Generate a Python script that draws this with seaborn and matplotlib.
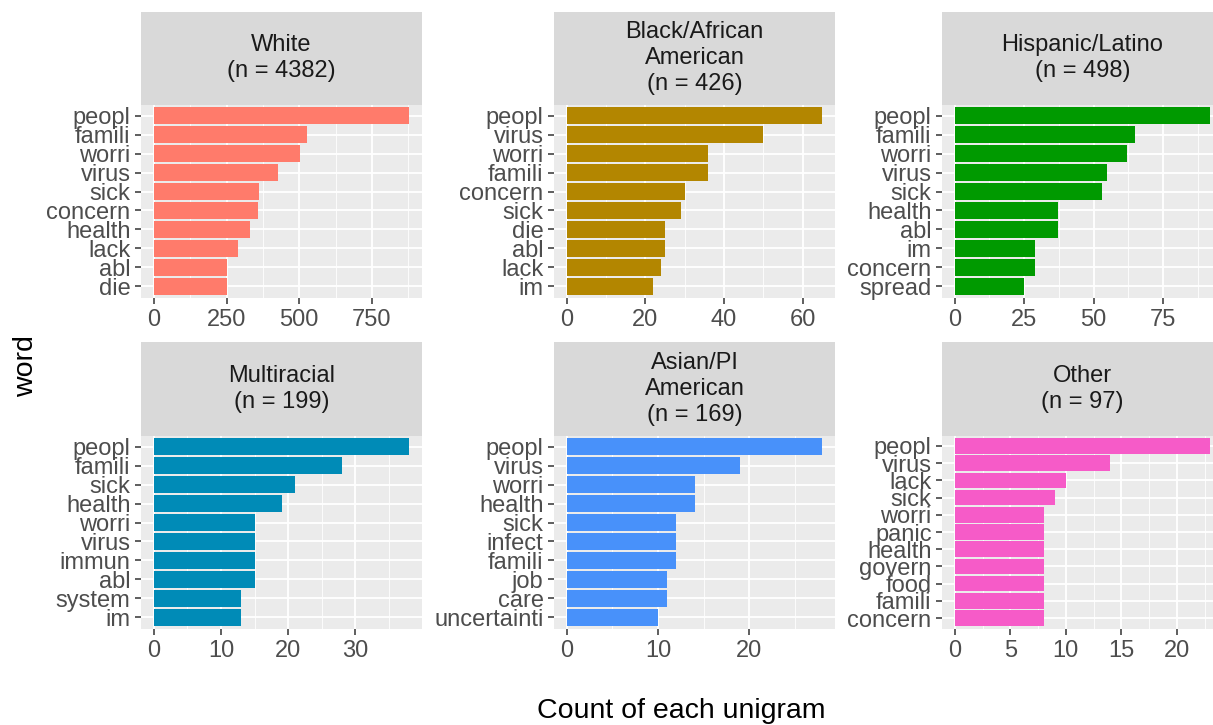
"""Top unigrams per race/ethnicity group, faceted horizontal bar chart."""

import matplotlib
matplotlib.use("Agg")
import matplotlib.pyplot as plt
from matplotlib.ticker import AutoMinorLocator, FixedLocator
import pandas as pd
import seaborn as sns

# --- data -------------------------------------------------------------------
groups = ["White\n(n = 4382)", "Black/African\nAmerican\n(n = 426)",
          "Hispanic/Latino\n(n = 498)", "Multiracial\n(n = 199)",
          "Asian/PI\nAmerican\n(n = 169)", "Other\n(n = 97)"]

white_words = ["peopl", "famili", "worri", "virus", "sick", "concern",
               "health", "lack", "abl", "die"]
white_counts = [878, 528, 501, 428, 361, 357, 331, 289, 252, 250]

black_words = ["peopl", "virus", "worri", "famili", "concern", "sick",
               "die", "abl", "lack", "im"]
black_counts = [65, 50, 36, 36, 30, 29, 25, 25, 24, 22]

hispanic_words = ["peopl", "famili", "worri", "virus", "sick", "health",
                  "abl", "im", "concern", "spread"]
hispanic_counts = [92, 65, 62, 55, 53, 37, 37, 29, 29, 25]

multi_words = ["peopl", "famili", "sick", "health", "worri", "virus",
               "immun", "abl", "system", "im"]
multi_counts = [38, 28, 21, 19, 15, 15, 15, 15, 13, 13]

asian_words = ["peopl", "virus", "worri", "health", "sick", "infect",
               "famili", "job", "care", "uncertainti"]
asian_counts = [28, 19, 14, 14, 12, 12, 12, 11, 11, 10]

other_words = ["peopl", "virus", "lack", "sick", "worri", "panic", "health",
               "govern", "food", "famili", "concern"]
other_counts = [23, 14, 10, 9, 8, 8, 8, 8, 8, 8, 8]

x_ticks = [[0, 250, 500, 750], [0, 20, 40, 60], [0, 25, 50, 75],
           [0, 10, 20, 30], [0, 10, 20], [0, 5, 10, 15, 20]]

colors = ["#FF7B6B", "#B38600", "#009A00", "#008BB7", "#4891FA", "#F65BC8"]

words_all = [white_words, black_words, hispanic_words,
             multi_words, asian_words, other_words]
counts_all = [white_counts, black_counts, hispanic_counts,
              multi_counts, asian_counts, other_counts]

df = pd.concat([pd.DataFrame({"group": g, "word": w, "count": c})
                for g, w, c in zip(groups, words_all, counts_all)],
               ignore_index=True)

# --- style ------------------------------------------------------------------
sns.set_theme(style="darkgrid", rc={
    "axes.facecolor": "#EBEBEB",
    "grid.color": "white",
    "xtick.color": "#333333",
    "ytick.color": "#333333",
    "xtick.labelcolor": "#4D4D4D",
    "ytick.labelcolor": "#4D4D4D",
    "xtick.bottom": True,
    "ytick.left": True,
    "xtick.major.size": 4,
    "ytick.major.size": 4,
    "xtick.major.width": 1.1,
    "ytick.major.width": 1.1,
    "xtick.major.pad": 4.5,
    "ytick.major.pad": 3.5,
})
plt.rcParams["font.family"] = ["Liberation Sans", "DejaVu Sans"]

W, H = 1213, 725
fig = plt.figure(figsize=(W / 100, H / 100), dpi=100)


def rect(left, top, width, height):
    return [left / W, (H - top - height) / H, width / W, height / H]


col_left = [141, 554, 942]
panel_w = 281
strip_top = [11.5, 342.5]
strip_h = 93
panel_h = 193

for i, grp in enumerate(groups):
    r, c = divmod(i, 3)
    left = col_left[c]
    top = strip_top[r]

    # facet strip
    sax = fig.add_axes(rect(left, top, panel_w, strip_h))
    sax.set_facecolor("#D9D9D9")
    sax.set_xticks([])
    sax.set_yticks([])
    sax.grid(False)
    for s in sax.spines.values():
        s.set_visible(False)
    sax.text(0.5, 0.5, grp, ha="center", va="center", fontsize=17,
             color="#1A1A1A", linespacing=1.22, transform=sax.transAxes)

    # panel
    ax = fig.add_axes(rect(left, top + strip_h, panel_w, panel_h))
    sub = df[df["group"] == grp]
    sns.barplot(data=sub, x="count", y="word", orient="h", color=colors[i],
                saturation=1, width=0.9, linewidth=0, ax=ax)
    n = len(sub)
    m = sub["count"].max()
    ax.set_ylim(n - 1 + 0.6, -0.6)
    ax.set_xlim(-0.05 * m, 1.05 * m)
    ax.xaxis.set_major_locator(FixedLocator(x_ticks[i]))
    ax.xaxis.set_minor_locator(AutoMinorLocator(2))
    ax.grid(which="major", color="white", lw=1.3)
    ax.grid(which="minor", axis="x", color="white", lw=0.6)
    ax.tick_params(which="minor", length=0)
    ax.tick_params(labelsize=17)
    ax.set_xlabel("")
    ax.set_ylabel("")
    for s in ax.spines.values():
        s.set_visible(False)

fig.text(26 / W, 1 - 366 / H, "word", rotation=90, ha="center", va="center",
         fontsize=20.5, color="black")
fig.text(681.5 / W, 1 - 711 / H, "Count of each unigram", ha="center",
         va="center", fontsize=20.5, color="black")

fig.savefig("out.png", dpi=100, facecolor="white")
